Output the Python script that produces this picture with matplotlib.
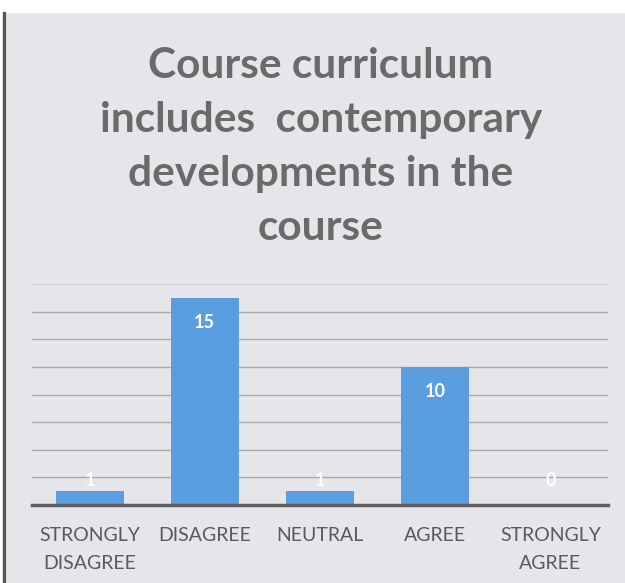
import matplotlib.pyplot as plt
from matplotlib.patches import Rectangle

categories = ["STRONGLY\nDISAGREE", "DISAGREE", "NEUTRAL", "AGREE", "STRONGLY\nAGREE"]
counts = [1, 15, 1, 10, 0]
title = "Course curriculum\nincludes  contemporary\ndevelopments in the\ncourse"

plt.rcParams['font.family'] = ['Lato', 'DejaVu Sans']

fig = plt.figure(figsize=(6.25, 5.83), dpi=100)
fig.patch.set_facecolor('#e6e6ea')

# scan frame: white strip on top, dark edge on the left
fig.add_artist(Rectangle((0, 1 - 12 / 583), 1, 12 / 583, transform=fig.transFigure,
                         color='white', zorder=0))
fig.add_artist(Rectangle((0, 0), 6 / 625, 1, transform=fig.transFigure,
                         color='white', zorder=0))
fig.add_artist(Rectangle((3 / 625, 0), 2 / 625, 1 - 12 / 583, transform=fig.transFigure,
                         color='#555555', zorder=0))

ax = fig.add_axes([32 / 625, 78 / 583, 576 / 625, 221 / 583])
ax.set_facecolor('none')

x = range(len(categories))
ax.bar(x, counts, width=0.59, color='#5a9ee0', zorder=3)
ax.set_xlim(-0.5, len(categories) - 0.5)
ax.set_ylim(0, 16)
ax.set_yticks(range(0, 16, 2))
ax.yaxis.grid(True, color='#a9a9a9', linewidth=1.0, zorder=0)
ax.axhline(16, color='#d0d0d4', linewidth=1.0, zorder=0)
ax.tick_params(axis='y', left=False, labelleft=False)
ax.tick_params(axis='x', bottom=False, labelsize=14, labelcolor='#5a5a5a', pad=12)
ax.set_xticks(list(x))
ax.set_xticklabels(categories, linespacing=1.8)
for s in ['top', 'right', 'left']:
    ax.spines[s].set_visible(False)
ax.spines['bottom'].set_color('#606060')
ax.spines['bottom'].set_linewidth(2.5)
ax.spines['bottom'].set_zorder(4)

for i, v in enumerate(counts):
    y = v - 1.8 if v >= 3 else 1.8
    ax.text(i, y, str(v), ha='center', va='center', color='white',
            fontsize=13, fontweight='bold', zorder=5)

fig.text(0.513, 1 - 147 / 583, title, ha='center', va='center', fontsize=30.5,
         fontweight='bold', color='#6a6a6a', linespacing=1.52)

fig.savefig('out.png', dpi=100, facecolor=fig.get_facecolor())
